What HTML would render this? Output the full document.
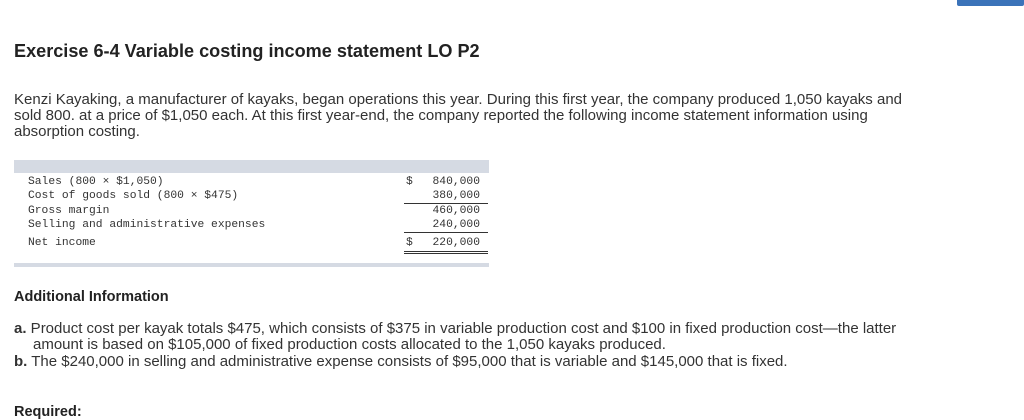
<!DOCTYPE html>
<html><head><meta charset="utf-8"><style>
body{margin:0;width:1024px;height:410px;overflow:hidden;background:#fff;font-family:"Liberation Sans",sans-serif;color:#333;position:relative}
.a{position:absolute;white-space:nowrap}
.p{font-size:15px;line-height:16px;letter-spacing:0px}
.m{font-family:"Liberation Mono",monospace;font-size:11.3px;line-height:12px;color:#333}
.r{text-align:right;width:80px}
.ln{position:absolute;background:#333;height:1px}
</style></head><body>
<div class="a" style="left:957px;top:0;width:67px;height:6px;background:#3b73b9;border-radius:0 0 2px 2px"></div>
<div class="a" style="left:14px;top:41px;font-size:18.1px;font-weight:bold;color:#222">Exercise 6-4 Variable costing income statement LO P2</div>
<div>
<div class="a p" style="left:14px;top:92px">Kenzi Kayaking, a manufacturer of kayaks, began operations this year. During this first year, the company produced 1,050 kayaks and</div>
<div class="a p" style="left:14px;top:108px">sold 800. at a price of $1,050 each. At this first year-end, the company reported the following income statement information using</div>
<div class="a p" style="left:14px;top:124px">absorption costing.</div>
</div>
<div>
<div class="a" style="left:14px;top:160px;width:475px;height:13px;background:#d5dae3"></div>
<div class="a m" style="left:28px;top:176px">Sales (800 × $1,050)</div>
<div class="a m" style="left:28px;top:190px">Cost of goods sold (800 × $475)</div>
<div class="a m" style="left:28px;top:205px">Gross margin</div>
<div class="a m" style="left:28px;top:219px">Selling and administrative expenses</div>
<div class="a m" style="left:28px;top:237px">Net income</div>
<div class="a m" style="left:406px;top:176px">$</div>
<div class="a m" style="left:406px;top:237px">$</div>
<div class="a m r" style="left:400px;top:176px">840,000</div>
<div class="a m r" style="left:400px;top:190px">380,000</div>
<div class="a m r" style="left:400px;top:205px">460,000</div>
<div class="a m r" style="left:400px;top:219px">240,000</div>
<div class="a m r" style="left:400px;top:237px">220,000</div>
<div class="ln" style="left:404px;top:203px;width:84px"></div>
<div class="ln" style="left:404px;top:232px;width:84px"></div>
<div class="ln" style="left:404px;top:251px;width:84px"></div>
<div class="ln" style="left:404px;top:253px;width:84px"></div>
<div class="a" style="left:14px;top:263px;width:475px;height:4px;background:#d5dae3"></div>
</div>
<div class="a" style="left:14px;top:289px;font-size:14.5px;font-weight:bold;color:#222">Additional Information</div>
<div>
<div class="a p" style="left:14px;top:321px"><b>a.</b> Product cost per kayak totals $475, which consists of $375 in variable production cost and $100 in fixed production cost—the latter</div>
<div class="a p" style="left:33px;top:337px">amount is based on $105,000 of fixed production costs allocated to the 1,050 kayaks produced.</div>
<div class="a p" style="left:14px;top:354px"><b>b.</b> The $240,000 in selling and administrative expense consists of $95,000 that is variable and $145,000 that is fixed.</div>
</div>
<div class="a" style="left:14px;top:404px;font-size:14.5px;font-weight:bold;color:#222">Required:</div>
</body></html>
